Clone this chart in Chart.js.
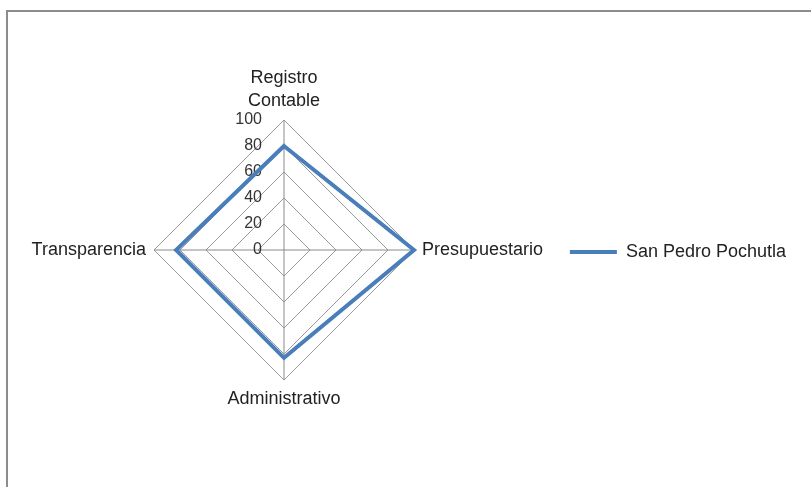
<!DOCTYPE html>
<html>
<head>
<meta charset="utf-8">
<script src="https://cdn.jsdelivr.net/npm/chart.js@4.4.0/dist/chart.umd.min.js"></script>
<style>
    body { margin: 0; background: #fff; }
    #wrap { position: relative; width: 811px; height: 487px; }
    #frame { position: absolute; left: 6px; top: 10px; right: -4px; bottom: -4px;
             border-left: 2px solid #8c8c8c; border-top: 2px solid #8c8c8c; pointer-events: none; }
</style>
</head>
<body>
<div id="wrap">
    <canvas id="myChart"></canvas>
    <div id="frame"></div>
</div>
<script>
const categories = [['Registro', 'Contable'], 'Presupuestario', 'Administrativo', 'Transparencia'];
const seriesName = 'San Pedro Pochutla';
const seriesValues = [80, 100, 83, 83];
const tickValues = [0, 20, 40, 60, 80, 100];

const fontFamily = '"Liberation Sans", Arial, sans-serif';

// tick labels sit left of the vertical axis, like Excel does it
const tickLabelsPlugin = {
    id: 'tickLabels',
    beforeDatasetsDraw(chart) {
        const scale = chart.scales.r;
        const ctx = chart.ctx;
        ctx.save();
        ctx.font = '16px ' + fontFamily;
        ctx.fillStyle = '#333';
        ctx.textAlign = 'right';
        ctx.textBaseline = 'middle';
        tickValues.forEach((v) => {
            const d = scale.getDistanceFromCenterForValue(v);
            ctx.fillText(String(v), scale.xCenter - 22, scale.yCenter - d);
        });
        ctx.restore();
    }
};

const data = {
    labels: categories,
    datasets: [{
        label: seriesName,
        data: seriesValues,
        borderColor: '#4a7ebb',
        backgroundColor: '#4a7ebb',
        borderWidth: 4,
        fill: false,
        pointRadius: 0,
        pointHoverRadius: 0
    }]
};

const config = {
    type: 'radar',
    data: data,
    options: {
        responsive: true,
        maintainAspectRatio: false,
        animation: false,
        layout: {
            padding: { left: 16, right: 15, top: 56, bottom: 65 }
        },
        scales: {
            r: {
                min: 0,
                max: 100,
                ticks: { stepSize: 20, display: false },
                grid: { color: '#9a9a9a', lineWidth: 1 },
                angleLines: { color: '#8a8a8a', lineWidth: 1 },
                pointLabels: {
                    padding: 8,
                    color: '#222',
                    font: { family: fontFamily, size: 18, lineHeight: 1.25 }
                }
            }
        },
        plugins: {
            legend: {
                position: 'right',
                title: { display: true, text: '', font: { size: 10 }, padding: { top: 14 } },
                labels: {
                    boxWidth: 47,
                    boxHeight: 4,
                    color: '#222',
                    font: { family: fontFamily, size: 18 },
                    generateLabels(chart) {
                        const items = Chart.defaults.plugins.legend.labels.generateLabels(chart);
                        items.forEach((it) => { it.lineWidth = 0; it.fillStyle = '#4a7ebb'; });
                        return items;
                    }
                }
            },
            tooltip: { enabled: false }
        }
    },
    plugins: [tickLabelsPlugin]
};

var myChart = new Chart(document.getElementById('myChart'), config);
</script>
</body>
</html>
